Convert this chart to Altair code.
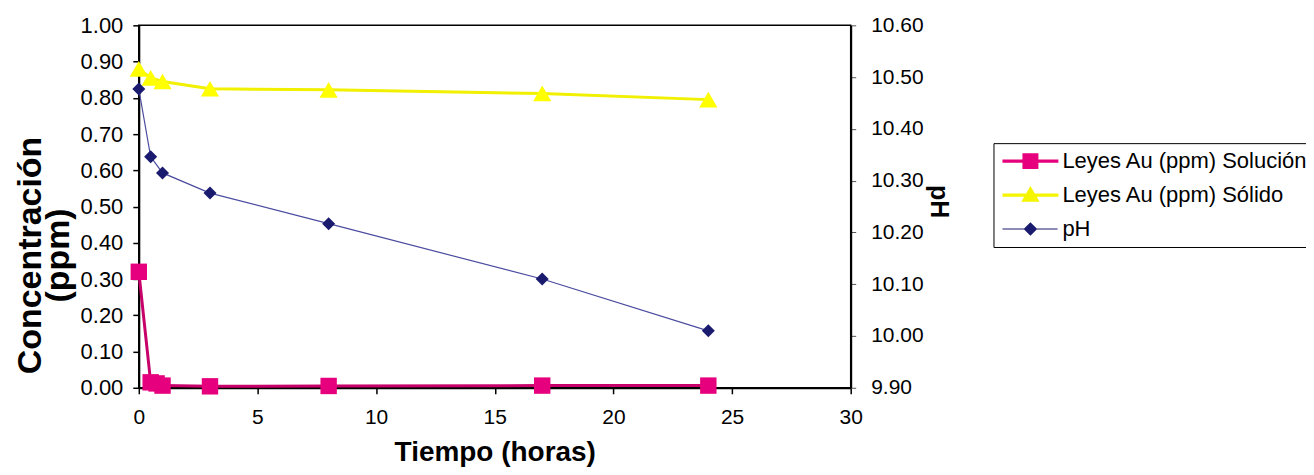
import altair as alt
import pandas as pd

# ---- data ----
tiempo_sol = [0, 0.5, 0.75, 1, 3, 8, 17, 24]
leyes_solucion = [0.32, 0.015, 0.012, 0.006, 0.004, 0.005, 0.006, 0.006]

tiempo = [0, 0.5, 1, 3, 8, 17, 24]
leyes_solido = [0.88, 0.855, 0.845, 0.825, 0.822, 0.812, 0.795]
ph = [10.477, 10.346, 10.315, 10.276, 10.217, 10.110, 10.010]

series = ["Leyes Au (ppm) Solución", "Leyes Au (ppm) Sólido", "pH"]
x_ticks = [0, 5, 10, 15, 20, 25, 30]
y_left_ticks = [0.0, 0.1, 0.2, 0.3, 0.4, 0.5, 0.6, 0.7, 0.8, 0.9, 1.0]
y_right_ticks = [9.9, 10.0, 10.1, 10.2, 10.3, 10.4, 10.5, 10.6]

FONT = "Liberation Sans"

df_sol = pd.DataFrame({"t": tiempo_sol, "valor": leyes_solucion})
df_solido = pd.DataFrame({"t": tiempo, "valor": leyes_solido})
df_ph = pd.DataFrame({"t": tiempo, "ph": ph})
df_leg = pd.DataFrame({"serie": series})

x_enc = alt.X(
    "t:Q",
    scale=alt.Scale(domain=[0, 30], nice=False, zero=False),
    axis=alt.Axis(
        values=x_ticks, format="d", labelFontSize=21, labelFont=FONT,
        labelColor="black", tickColor="black", tickSize=6, tickWidth=1.5,
        domainColor="black", domainWidth=2, grid=False, labelPadding=13,
        labelFlush=False, title="Tiempo (horas)", titleFont=FONT,
        titleFontSize=28, titleFontWeight="bold", titleColor="black",
        titleY=73, titleBaseline="alphabetic",
    ),
)

y_left = alt.Y(
    "valor:Q",
    scale=alt.Scale(domain=[0, 1], nice=False, zero=False),
    axis=alt.Axis(
        values=y_left_ticks, format=".2f", labelFontSize=22, labelFont=FONT,
        labelColor="black", tickColor="black", tickSize=6, tickWidth=1.5,
        domainColor="black", domainWidth=2, grid=False, labelPadding=10,
        labelFlush=False, title=["Concentración", "(ppm)"], titleFont=FONT,
        titleFontSize=34, titleFontWeight="bold", titleColor="black",
        titleAngle=270, titleAlign="center", titleBaseline="middle",
        titleX=-108, titleY=230, titleLineHeight=28,
    ),
)

y_right = alt.Y(
    "ph:Q",
    scale=alt.Scale(domain=[9.9, 10.6], nice=False, zero=False),
    axis=alt.Axis(
        orient="right", values=y_right_ticks, format=".2f", labelFontSize=21,
        labelFont=FONT, labelColor="black", tickColor="#555555", tickSize=5,
        domainColor="black", domainWidth=2, grid=False, labelPadding=15,
        labelFlush=False, title="pH", titleFont=FONT, titleFontSize=25,
        titleFontWeight="bold", titleColor="black", titleAngle=90,
        titleAlign="center", titleBaseline="middle", titleX=88, titleY=176,
    ),
)

sol_line = alt.Chart(df_sol).mark_line(color="#C8006A", strokeWidth=3).encode(x=x_enc, y=y_left)
sol_pts = alt.Chart(df_sol).mark_point(shape="square", filled=True, size=270, color="#E6007E", opacity=1).encode(x=x_enc, y=y_left)

solido_line = alt.Chart(df_solido).mark_line(color="#F0F000", strokeWidth=3).encode(x=x_enc, y=y_left)
solido_pts = alt.Chart(df_solido).mark_point(shape="triangle-up", filled=True, size=330, color="#FFFF00", opacity=1).encode(x=x_enc, y=y_left)

ph_line = alt.Chart(df_ph).mark_line(color="#4B4BA0", strokeWidth=1.2).encode(x=x_enc, y=y_right)
ph_pts = alt.Chart(df_ph).mark_point(shape="diamond", filled=True, size=170, color="#1A1A6E", opacity=1).encode(x=x_enc, y=y_right)

# legend symbols: line segment + marker (unit coords scaled by sqrt(size)/2)
legend_shapes = [
    "M-7,-0.4H-2V-2H2V-0.4H7V0.4H2V2H-2V0.4H-7Z",
    "M-7,-0.4H7V0.4H-7Z M0,-2.3L2.3,1.7L-2.3,1.7Z",
    "M-7,-0.12H6.8V0.12H-7Z M0,-1.7L1.7,0L0,1.7L-1.7,0Z",
]
legend_colors = ["#E6007E", "#F5F500", "#1A1A6E"]

legend_layer = alt.Chart(df_leg).mark_point(filled=True, opacity=1).encode(
    color=alt.Color(
        "serie:N",
        scale=alt.Scale(domain=series, range=legend_colors),
        legend=alt.Legend(
            orient="none", legendX=856, legendY=118, title=None,
            labelFontSize=22, labelFont=FONT, labelColor="black",
            strokeColor="black", fillColor="white", padding=7,
            symbolSize=64, symbolOffset=19, labelOffset=21,
            rowPadding=12, symbolStrokeWidth=0, labelLimit=400,
        ),
    ),
    shape=alt.Shape("serie:N", scale=alt.Scale(domain=series, range=legend_shapes)),
).transform_filter("datum.serie == 'none'")

left = alt.layer(sol_line, solido_line, sol_pts, solido_pts, legend_layer)
right = alt.layer(ph_line, ph_pts)

chart = (
    alt.layer(left, right)
    .resolve_scale(y="independent")
    .properties(
        width=713,
        height=363,
        autosize=alt.AutoSizeParams(type="none"),
        padding={"left": 131, "top": 17, "right": 456, "bottom": 80},
        background="white",
    )
    .configure_view(stroke="black", strokeWidth=1.5)
)

chart.save("out.html", embed_options={"renderer": "svg", "actions": False})
